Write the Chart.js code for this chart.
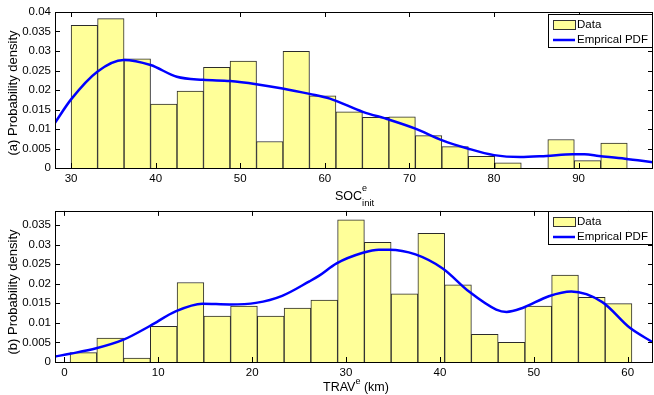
<!DOCTYPE html>
<html>
<head>
<meta charset="utf-8">
<script src="https://cdn.jsdelivr.net/npm/chart.js@4.4.0/dist/chart.umd.min.js"></script>
<style>
  html, body { margin: 0; padding: 0; background: #fff; }
  #wrap { position: relative; width: 654px; height: 395px; overflow: hidden; }
  canvas { position: absolute; left: 0; }
  #socChart { top: 0; }
  #travChart { top: 200px; }
</style>
</head>
<body>
<div id="wrap">
  <canvas id="socChart" width="654" height="210"></canvas>
  <canvas id="travChart" width="654" height="195"></canvas>
</div>
<script>
// (a) initial SOC histogram, bin centres and densities
const socBins = [31.57, 34.70, 37.83, 40.96, 44.09, 47.22, 50.36, 53.49, 56.62, 59.75, 62.88,
  66.01, 69.14, 72.27, 75.40, 78.53, 81.66, 84.80, 87.93, 91.06, 94.19];
const socDensity = [0.0366, 0.0383, 0.0280, 0.0164, 0.0197, 0.0258, 0.0274, 0.0068, 0.0299, 0.0185, 0.0144,
  0.0130, 0.0131, 0.0083, 0.0055, 0.0030, 0.0013, 0.0000, 0.0073, 0.0019, 0.0064];
// (a) empirical pdf curve
const socPdfX = [28.1, 30.0, 33.1, 36.2, 39.4, 42.5, 45.6, 48.8, 51.9, 55.0, 58.2, 60.6,
  64.5, 67.6, 70.7, 73.9, 76.9, 80.0, 83.1, 86.2, 89.3, 90.7, 92.4, 95.5, 98.8];
const socPdfY = [0.0116, 0.0176, 0.0247, 0.0277, 0.0264, 0.0234, 0.0226, 0.0223, 0.0215, 0.0204, 0.0190, 0.0178,
  0.0144, 0.0124, 0.0101, 0.0071, 0.0050, 0.0033, 0.0028, 0.0031, 0.0035, 0.0035, 0.0031, 0.0024, 0.0015];

// (b) travel distance histogram
const travBins = [2.03, 4.88, 7.73, 10.58, 13.43, 16.28, 19.13, 21.98, 24.83, 27.68, 30.53,
  33.38, 36.23, 39.08, 41.93, 44.78, 47.63, 50.48, 53.33, 56.18, 59.03];
const travDensity = [0.0024, 0.0061, 0.0010, 0.0091, 0.0203, 0.0117, 0.0143, 0.0117, 0.0138, 0.0158, 0.0363,
  0.0306, 0.0174, 0.0329, 0.0197, 0.0071, 0.0050, 0.0143, 0.0222, 0.0165, 0.0149];
const travPdfX = [-1.0, 0.6, 3.4, 6.3, 9.1, 11.9, 14.7, 17.6, 20.4, 23.2, 26.1, 27.1, 29.0, 31.8, 33.5,
  34.6, 37.4, 40.3, 43.1, 46.0, 47.1, 48.8, 51.6, 54.0, 57.3, 60.2, 62.7];
const travPdfY = [0.0014, 0.0021, 0.0035, 0.0057, 0.0092, 0.0130, 0.0149, 0.0147, 0.0151, 0.0169, 0.0206, 0.0220, 0.0252, 0.0279, 0.0287,
  0.0287, 0.0275, 0.0239, 0.0180, 0.0134, 0.0128, 0.0138, 0.0168, 0.0180, 0.0153, 0.0088, 0.0050];

const socTicksX = [30, 40, 50, 60, 70, 80, 90];
const travTicksX = [0, 10, 20, 30, 40, 50, 60];
const densityTicks = [0, 0.005, 0.01, 0.015, 0.02, 0.025, 0.03, 0.035, 0.04];

const FONT = "'Liberation Sans', Arial, Helvetica, sans-serif";

// box, inward ticks, legend and axis titles in the MATLAB look
const matlabFrame = {
  id: "matlabFrame",
  afterDraw(chart, args, opts) {
    const { ctx, chartArea: a, scales } = chart;
    ctx.save();
    ctx.strokeStyle = "#000";
    ctx.lineWidth = 1;
    ctx.strokeRect(Math.round(a.left) + 0.5, Math.round(a.top) + 0.5,
      Math.round(a.right - a.left) - 1, Math.round(a.bottom - a.top));
    const tl = 5;
    ctx.beginPath();
    scales.x.ticks.forEach((t) => {
      const px = Math.round(scales.x.getPixelForValue(t.value)) + 0.5;
      ctx.moveTo(px, a.bottom); ctx.lineTo(px, a.bottom - tl);
      ctx.moveTo(px, a.top); ctx.lineTo(px, a.top + tl);
    });
    scales.y.ticks.forEach((t) => {
      const py = Math.round(scales.y.getPixelForValue(t.value)) + 0.5;
      ctx.moveTo(a.left, py); ctx.lineTo(a.left + tl, py);
      ctx.moveTo(a.right, py); ctx.lineTo(a.right - tl, py);
    });
    ctx.stroke();

    // legend
    const lg = opts.legend;
    ctx.fillStyle = "#fff";
    ctx.fillRect(lg.x, lg.y, lg.w, lg.h);
    ctx.strokeRect(lg.x + 0.5, lg.y + 0.5, lg.w - 1, lg.h - 1);
    ctx.fillStyle = "#ffff99";
    ctx.fillRect(lg.x + 5, lg.y + 6, 22, 9);
    ctx.strokeStyle = "#333";
    ctx.strokeRect(lg.x + 5.5, lg.y + 6.5, 22, 9);
    ctx.strokeStyle = "#0000ff";
    ctx.lineWidth = 2.5;
    ctx.beginPath();
    ctx.moveTo(lg.x + 5, lg.y + 26); ctx.lineTo(lg.x + 27, lg.y + 26);
    ctx.stroke();
    ctx.fillStyle = "#000";
    ctx.font = "11.5px " + FONT;
    ctx.textBaseline = "middle";
    ctx.textAlign = "left";
    ctx.fillText("Data", lg.x + 29, lg.y + 11);
    ctx.fillText("Emprical PDF", lg.x + 29, lg.y + 26);

    // y title
    ctx.save();
    ctx.translate(opts.yTitle.x, opts.yTitle.y);
    ctx.rotate(-Math.PI / 2);
    ctx.textAlign = "center";
    ctx.textBaseline = "middle";
    ctx.font = "13px " + FONT;
    ctx.fillText(opts.yTitle.text, 0, 0);
    ctx.restore();

    // x title with super / subscripts
    ctx.textBaseline = "alphabetic";
    let x = opts.xTitle.x;
    const y = opts.xTitle.y;
    opts.xTitle.parts.forEach((p) => {
      ctx.font = p.size + "px " + FONT;
      ctx.fillText(p.text, x, y + p.dy);
      const w = ctx.measureText(p.text).width;
      if (!p.stack) x += w;
    });
    ctx.restore();
  },
};

function keepTicks(list) {
  return (scale) => {
    scale.ticks = list.filter((v) => v >= scale.min - 1e-9 && v <= scale.max + 1e-9).map((v) => ({ value: v }));
  };
}

function makeChart(id, cfg) {
  return new Chart(document.getElementById(id), {
    data: {
      datasets: [
        {
          type: "line",
          label: "Emprical PDF",
          data: cfg.pdfX.map((v, i) => ({ x: v, y: cfg.pdfY[i] })),
          borderColor: "#0000ff",
          borderWidth: 2.5,
          pointRadius: 0,
          cubicInterpolationMode: "monotone",
          fill: false,
          order: 0,
        },
        {
          type: "bar",
          label: "Data",
          data: cfg.bins.map((v, i) => ({ x: v, y: cfg.density[i] })),
          backgroundColor: "#ffff99",
          borderColor: "#2b2b2b",
          borderWidth: 1,
          borderSkipped: "bottom",
          barPercentage: 1,
          categoryPercentage: 1,
          order: 1,
        },
      ],
    },
    options: {
      responsive: false,
      animation: false,
      layout: { padding: { left: 0, right: 1, top: cfg.top, bottom: 0 } },
      plugins: {
        legend: { display: false },
        tooltip: { enabled: false },
        matlabFrame: { legend: cfg.legend, yTitle: cfg.yTitle, xTitle: cfg.xTitle },
      },
      scales: {
        x: {
          type: "linear",
          min: cfg.xMin,
          max: cfg.xMax,
          offset: false,
          grid: { display: false, drawTicks: false },
          border: { display: false },
          afterBuildTicks: keepTicks(cfg.xTicks),
          afterFit: (s) => { s.height = cfg.xHeight; },
          ticks: { color: "#000", font: { family: FONT, size: 11.5 }, padding: 4, maxRotation: 0, autoSkip: false },
        },
        y: {
          min: 0,
          max: cfg.yMax,
          grid: { display: false, drawTicks: false },
          border: { display: false },
          afterBuildTicks: keepTicks(densityTicks),
          afterFit: (s) => { s.width = 55; },
          ticks: {
            color: "#000",
            font: { family: FONT, size: 11.5 },
            padding: 4,
            callback: (v) => String(+v.toFixed(3)),
          },
        },
      },
    },
    plugins: [matlabFrame],
  });
}

makeChart("socChart", {
  bins: socBins, density: socDensity, pdfX: socPdfX, pdfY: socPdfY,
  xMin: 28.1, xMax: 98.8, xTicks: socTicksX, yMax: 0.04,
  top: 12, xHeight: 42,
  legend: { x: 548, y: 14, w: 105, h: 34 },
  yTitle: { x: 13, y: 93, text: "(a) Probability density" },
  xTitle: { x: 335, y: 200, parts: [
    { text: "SOC", size: 12.5, dy: 0 },
    { text: "e", size: 9, dy: -9, stack: true },
    { text: "init", size: 9.5, dy: 6 },
  ] },
});

makeChart("travChart", {
  bins: travBins, density: travDensity, pdfX: travPdfX, pdfY: travPdfY,
  xMin: -1.0, xMax: 62.7, xTicks: travTicksX, yMax: 0.0386,
  top: 8, xHeight: 33,
  legend: { x: 548, y: 11, w: 105, h: 34 },
  yTitle: { x: 13, y: 92, text: "(b) Probability density" },
  xTitle: { x: 323, y: 191, parts: [
    { text: "TRAV", size: 12.5, dy: 0 },
    { text: "e", size: 9, dy: -7 },
    { text: " (km)", size: 12.5, dy: 0 },
  ] },
});
</script>
</body>
</html>
